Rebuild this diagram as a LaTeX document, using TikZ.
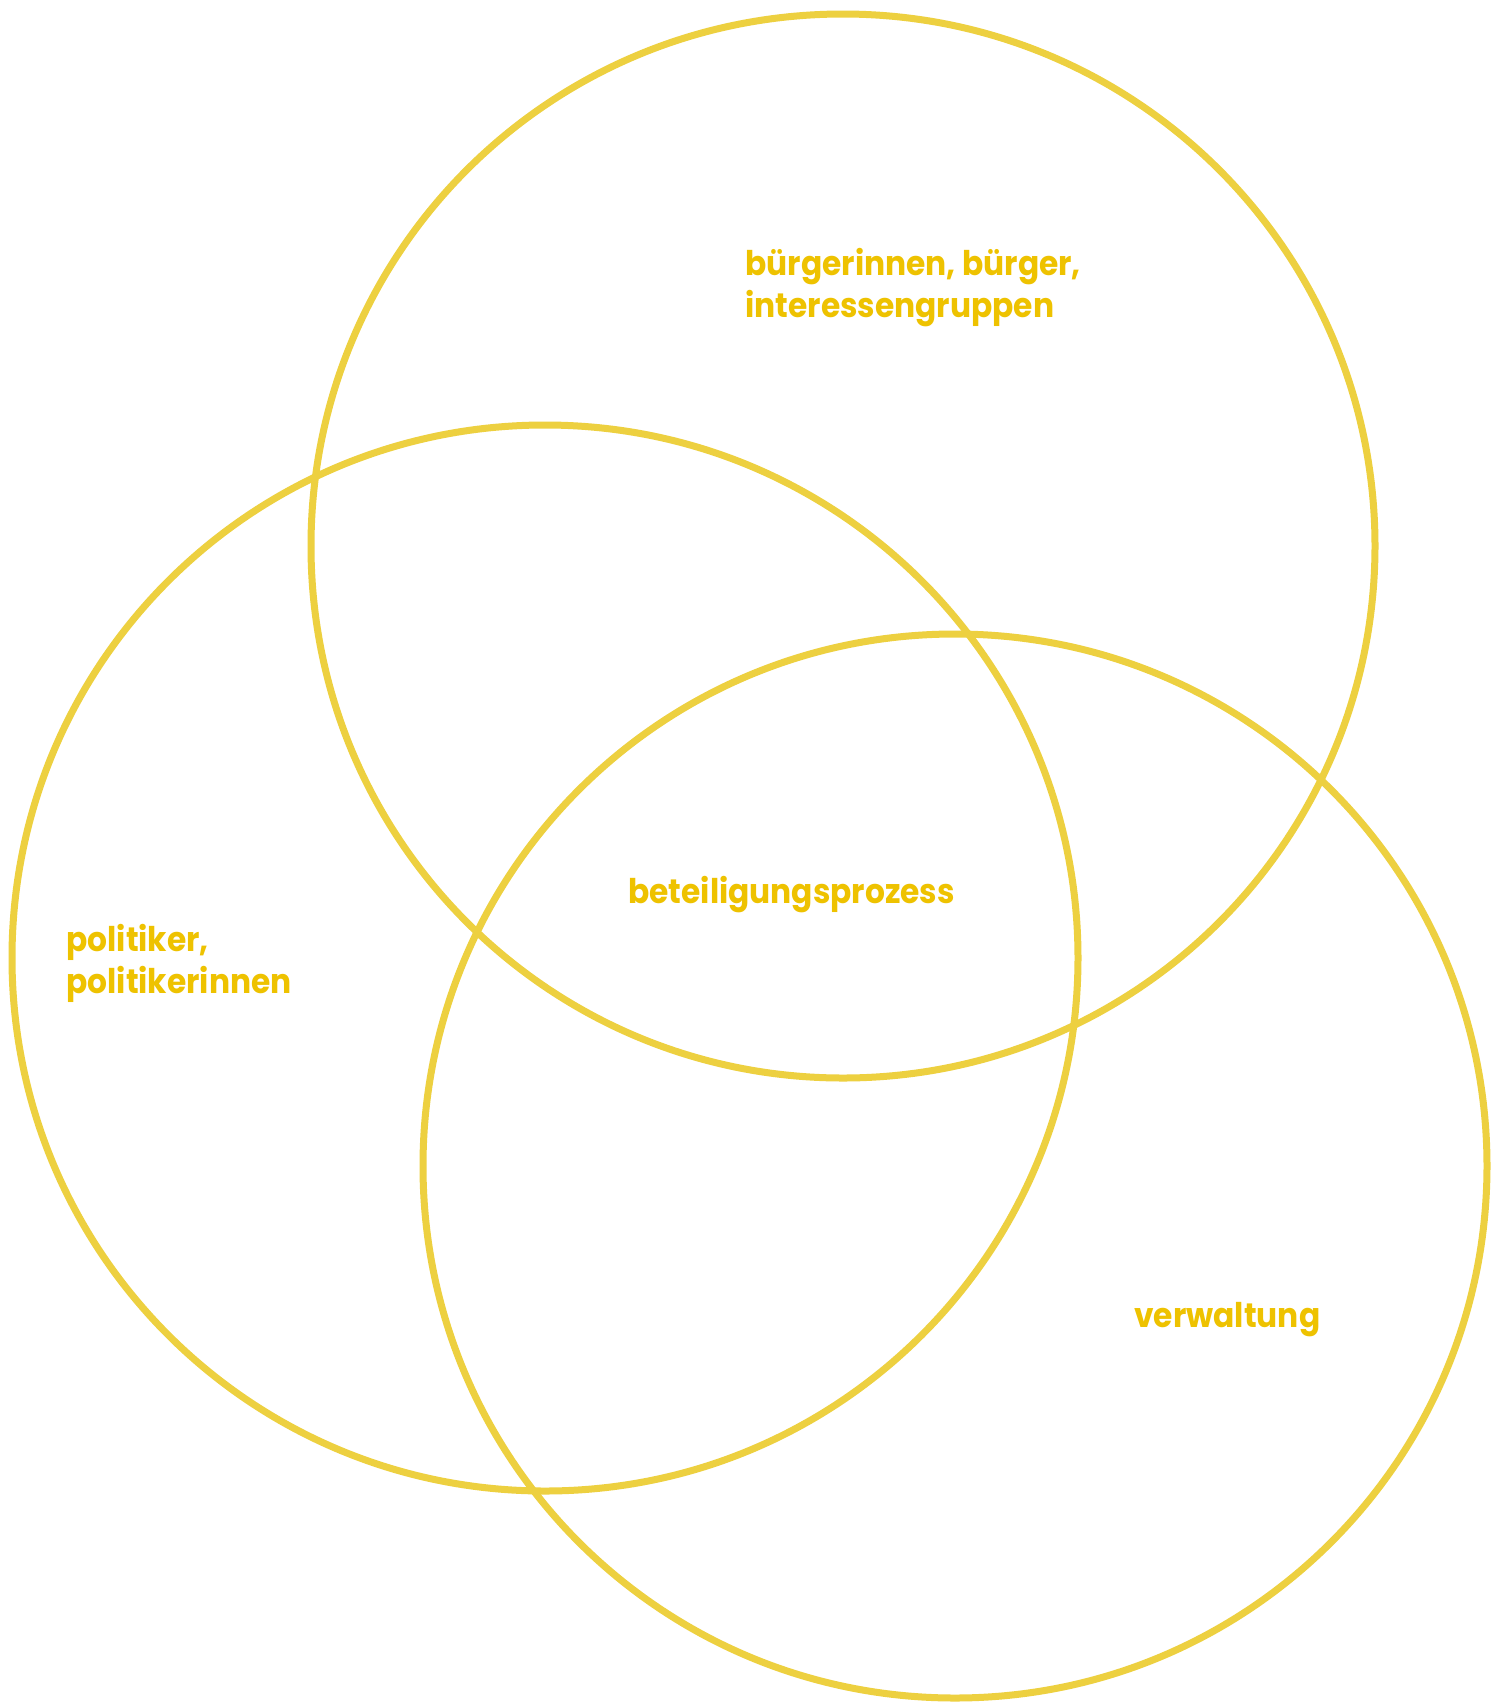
\documentclass[tikz,border=0pt]{standalone}
\usepackage{fontspec}
\setmainfont[FakeStretch=0.92]{Poppins}
\definecolor{ring}{HTML}{EDD040}
\definecolor{lab}{HTML}{EEC200}
\begin{document}
\begin{tikzpicture}[x=0.5pt,y=-0.5pt,
  ringline/.style={draw=ring,line width=3.5pt},
  lbl/.style={text=lab,font=\fontsize{17}{20.7}\selectfont\bfseries,anchor=base west,inner sep=0pt,align=left}]
\useasboundingbox[fill=white] (0,0) rectangle (1496,1704);
\draw[ringline] (843,546) circle[radius=532];
\draw[ringline] (545,958) circle[radius=533];
\draw[ringline] (955,1166) circle[radius=532];
\node[lbl] (buerger) at (745,317) {bürgerinnen, bürger,\\interessengruppen};
\node[lbl] (prozess) at (628,903) {beteiligungsprozess};
\node[lbl] (politik) at (66,993) {politiker,\\politikerinnen};
\node[lbl] (verw) at (1134,1327) {verwaltung};
\end{tikzpicture}
\end{document}
